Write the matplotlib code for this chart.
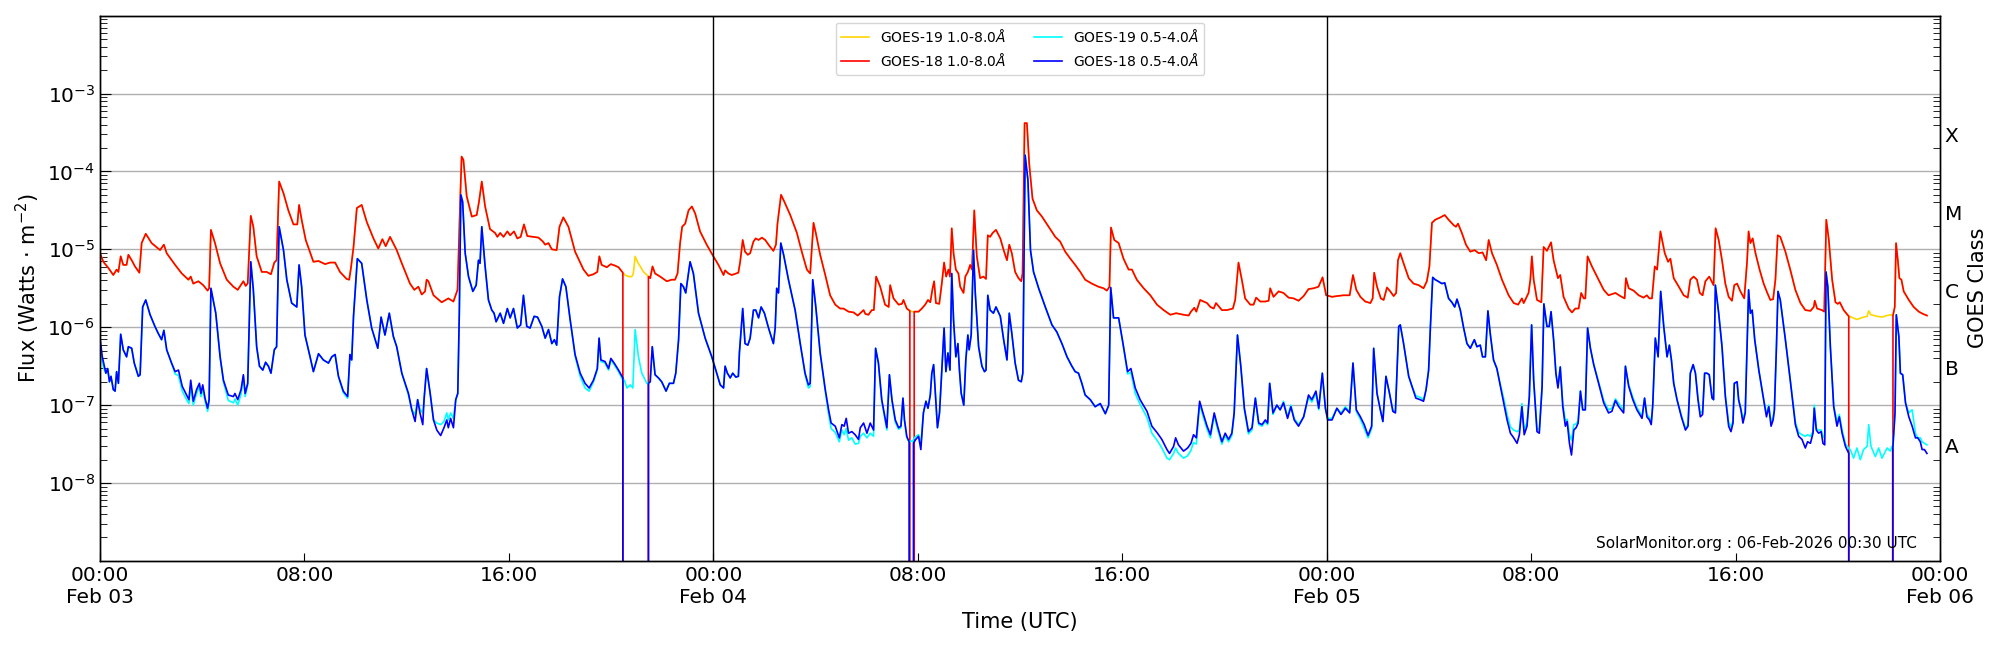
import numpy as np
import matplotlib
matplotlib.use("Agg")
import matplotlib.pyplot as plt
import matplotlib.dates as mdates
from matplotlib.ticker import NullFormatter, FuncFormatter

# GOES X-ray flux, log10(W/m^2).
# GAP marks GOES-18 dropouts (flux reported as 0).
GAP = -np.inf

# hours since 2026-02-03 00:00 UTC, long channel (1.0-8.0 A)
t_long = [
    0.0, 0.13, 0.33, 0.52, 0.65, 0.72, 0.81, 0.91, 1.04, 1.11, 1.24, 1.37, 1.54, 1.63, 1.79, 2.02, 2.35, 2.50, 2.61, 2.94,
    3.20, 3.46, 3.55, 3.65, 3.85, 4.04, 4.21, 4.27, 4.34, 4.50, 4.70, 4.96, 5.22, 5.39, 5.61, 5.70, 5.78, 5.90, 6.00, 6.13,
    6.33, 6.52, 6.69, 6.82, 6.91, 7.01, 7.18, 7.37, 7.57, 7.72, 7.79, 7.89, 8.05, 8.35, 8.55, 8.81, 9.00, 9.20, 9.39, 9.65,
    9.75, 9.82, 9.92, 10.05, 10.24, 10.44, 10.70, 10.89, 11.05, 11.18, 11.35, 11.61, 11.81, 12.13, 12.30, 12.46, 12.59,
    12.72, 12.78, 12.85, 13.05, 13.37, 13.63, 13.83, 13.99, 14.09, 14.15, 14.22, 14.35, 14.55, 14.74, 14.83, 14.94, 15.07, 15.26, 15.46, 15.55,
    15.66, 15.79, 15.94, 16.05, 16.20, 16.33, 16.46, 16.59, 16.72, 16.96, 17.16, 17.33, 17.42, 17.55, 17.68, 17.87, 17.98, 18.13, 18.33, 18.59,
    18.92, 19.11, 19.31, 19.46, 19.54, 19.63, 19.83, 19.99, 20.16, 20.29, 20.46,
    20.48, 20.55, 20.68, 20.81, 20.87, 20.94, 21.03, 21.14, 21.27, 21.40, 21.44,
    21.46, 21.53, 21.62, 21.72, 21.92, 22.18, 22.37, 22.50, 22.60, 22.70, 22.78, 22.90, 23.03, 23.16, 23.29, 23.48, 23.74, 24.00, 24.20, 24.40,
    24.46, 24.59, 24.72, 24.98, 25.05, 25.15, 25.24,
    25.35, 25.44, 25.57, 25.66, 25.77, 25.90, 26.03, 26.18, 26.35, 26.45, 26.51, 26.65, 26.78, 27.01, 27.27, 27.46, 27.66, 27.79, 27.92, 28.01,
    28.18, 28.38, 28.57, 28.77, 28.96, 29.09, 29.29, 29.49, 29.65, 29.75, 29.88, 29.95, 30.07, 30.20, 30.28, 30.37, 30.53, 30.72, 30.86, 30.92,
    31.05, 31.25, 31.38, 31.44, 31.57, 31.69,
    31.70, 31.77, 31.83,
    31.86, 32.03, 32.16, 32.29, 32.40, 32.49, 32.58, 32.64, 32.71, 32.84, 32.94, 33.03, 33.11, 33.20, 33.26, 33.33, 33.40, 33.49, 33.59, 33.66,
    33.79, 33.86, 33.96, 34.05, 34.12, 34.21, 34.31, 34.44, 34.57, 34.67, 34.74, 34.83, 34.93, 35.06, 35.23, 35.36, 35.49, 35.58, 35.68, 35.81,
    35.94, 36.05, 36.10, 36.18, 36.27, 36.36, 36.49, 36.66, 36.86, 37.12, 37.38, 37.57, 37.77, 37.97,
    38.16, 38.36, 38.55, 38.81, 39.07, 39.27, 39.40, 39.50, 39.56, 39.69, 39.86, 40.05, 40.25, 40.38, 40.57, 40.84, 41.10, 41.36, 41.62, 41.88,
    42.11, 42.40, 42.60, 42.69, 42.82, 42.90, 43.05, 43.18, 43.32, 43.45, 43.58, 43.67, 43.80, 43.90, 44.10, 44.33, 44.42, 44.55, 44.68, 44.81,
    45.01, 45.14, 45.24, 45.40, 45.60, 45.73, 45.79, 45.92, 46.12, 46.31, 46.51, 46.71, 46.90, 47.10, 47.29, 47.49, 47.68, 47.84, 47.98, 48.21,
    48.40, 48.66, 48.90, 49.03, 49.16, 49.32, 49.51, 49.71, 49.80, 49.86, 49.97, 50.12, 50.23, 50.36, 50.49, 50.62, 50.72, 50.79, 50.88,
    51.01, 51.21, 51.40, 51.60, 51.79, 51.92, 52.02, 52.12, 52.25, 52.45, 52.62, 52.77, 52.97, 53.06, 53.14, 53.29, 53.45, 53.62, 53.79, 53.95,
    54.10, 54.24, 54.34, 54.47, 54.66, 54.86, 55.12, 55.32, 55.49, 55.64, 55.71, 55.90, 55.97, 56.03, 56.10, 56.23, 56.40, 56.49, 56.62, 56.78,
    56.88, 57.05, 57.14, 57.27, 57.47, 57.60, 57.73, 57.86, 57.96, 58.06, 58.12, 58.21, 58.38, 58.58, 58.84, 59.03, 59.30, 59.49, 59.66, 59.71,
    59.82, 60.01, 60.21, 60.40, 60.53, 60.63, 60.73, 60.84, 60.93, 61.06, 61.23, 61.36, 61.45, 61.58, 61.78, 61.97, 62.13, 62.23, 62.36, 62.49,
    62.60, 62.71, 62.82, 62.97, 63.14, 63.22,
    63.34, 63.47, 63.60, 63.73, 63.86, 63.95, 64.06, 64.19, 64.34, 64.45, 64.51, 64.58, 64.67, 64.78, 64.94, 65.10, 65.23, 65.36, 65.47, 65.56,
    65.65, 65.75, 65.95, 66.14, 66.34, 66.54, 66.73, 66.93, 67.06, 67.10, 67.19, 67.38, 67.47, 67.55, 67.65, 67.78, 67.91, 68.00, 68.08, 68.23,
    68.43,
    68.45, 68.75, 69.01, 69.15, 69.21, 69.30, 69.54, 69.73, 69.93, 70.08, 70.12,
    70.16, 70.23, 70.28, 70.35, 70.41, 70.49, 70.58, 70.78, 70.97, 71.17, 71.34, 71.49,
]

g18_long = [
    -5.05, -5.16, -5.24, -5.33, -5.26, -5.29, -5.09, -5.20, -5.20, -5.07, -5.14, -5.22, -5.30, -4.92, -4.80, -4.92, -5.01, -4.94, -5.05, -5.20,
    -5.31, -5.39, -5.35, -5.44, -5.41, -5.46, -5.53, -5.50, -4.75, -4.92, -5.18, -5.39, -5.48, -5.52, -5.41, -5.47, -5.44, -4.57, -4.71, -5.09,
    -5.29, -5.29, -5.32, -5.17, -5.14, -4.13, -4.28, -4.50, -4.68, -4.68, -4.43, -4.62, -4.88, -5.16, -5.15, -5.19, -5.17, -5.17, -5.29, -5.38,
    -5.39, -5.24, -4.97, -4.47, -4.43, -4.65, -4.86, -4.99, -4.87, -4.96, -4.84, -5.01, -5.18, -5.44, -5.52, -5.48, -5.58,
    -5.54, -5.39, -5.41, -5.59, -5.68, -5.63, -5.67, -5.52, -4.41, -3.81, -3.85, -4.32, -4.58, -4.56, -4.39, -4.13, -4.45, -4.74, -4.79, -4.84,
    -4.79, -4.84, -4.77, -4.82, -4.77, -4.86, -4.84, -4.68, -4.83, -4.84, -4.85, -4.90, -4.94, -4.92, -5.00, -5.01, -4.71, -4.59, -4.71, -5.03,
    -5.26, -5.34, -5.32, -5.29, -5.09, -5.20, -5.23, -5.19, -5.21, -5.23, -5.30,
    GAP, GAP, GAP, GAP, GAP, GAP, GAP, GAP, GAP, GAP, GAP,
    -5.35, -5.37, -5.22, -5.31, -5.35, -5.41, -5.39, -5.39, -5.31, -4.92, -4.71, -4.67, -4.50, -4.45, -4.54, -4.77, -4.94, -5.09, -5.20, -5.33,
    -5.27, -5.31, -5.33, -5.30, -5.16, -4.88, -5.03,
    -5.07, -5.05, -4.90, -4.86, -4.88, -4.85, -4.88, -4.95, -5.02, -4.94, -4.67, -4.30, -4.39, -4.56, -4.79, -5.03, -5.26, -5.31, -4.66, -4.79,
    -5.07, -5.33, -5.59, -5.71, -5.76, -5.76, -5.80, -5.81, -5.85, -5.82, -5.78, -5.83, -5.84, -5.78, -5.78, -5.35, -5.48, -5.71, -5.74, -5.46,
    -5.63, -5.71, -5.70, -5.65, -5.76, -5.79,
    GAP, GAP, GAP,
    -5.80, -5.80, -5.76, -5.71, -5.65, -5.68, -5.50, -5.41, -5.69, -5.70, -5.44, -5.17, -5.35, -5.26, -5.35, -4.73, -5.05, -5.26, -5.31, -5.48,
    -5.56, -5.35, -5.29, -5.20, -5.26, -4.50, -5.09, -5.37, -5.35, -5.38, -4.82, -4.84, -4.79, -4.75, -4.86, -5.01, -5.14, -4.94, -5.05, -5.29,
    -5.37, -5.41, -5.31, -3.38, -3.38, -3.90, -4.35, -4.50, -4.58, -4.71, -4.84, -4.90, -5.03, -5.12,
    -5.20, -5.29, -5.39, -5.44, -5.48, -5.50, -5.53, -5.48, -4.72, -4.88, -4.92, -5.12, -5.26, -5.26, -5.39, -5.50, -5.59, -5.71, -5.78, -5.84,
    -5.82, -5.84, -5.85, -5.80, -5.75, -5.80, -5.65, -5.67, -5.69, -5.74, -5.76, -5.69, -5.74, -5.78, -5.78, -5.76, -5.65, -5.17, -5.39, -5.63,
    -5.71, -5.71, -5.62, -5.67, -5.67, -5.66, -5.50, -5.61, -5.54, -5.56, -5.62, -5.63, -5.66, -5.60, -5.51, -5.50, -5.48, -5.36, -5.59, -5.61,
    -5.60, -5.59, -5.59, -5.33, -5.52, -5.61, -5.67, -5.69, -5.63, -5.30, -5.48, -5.63, -5.65, -5.49, -5.54, -5.60, -5.56, -5.14, -5.05,
    -5.18, -5.37, -5.44, -5.46, -5.50, -5.41, -5.22, -4.66, -4.62, -4.59, -4.56, -4.62, -4.69, -4.71, -4.67, -4.79, -4.94, -5.03, -5.01, -5.05,
    -5.04, -5.14, -4.88, -5.05, -5.20, -5.39, -5.59, -5.69, -5.71, -5.63, -5.69, -5.56, -5.39, -5.09, -5.39, -5.65, -5.68, -4.97, -5.02, -4.91,
    -5.14, -5.37, -5.33, -5.61, -5.76, -5.81, -5.76, -5.76, -5.56, -5.63, -5.63, -5.09, -5.22, -5.35, -5.52, -5.59, -5.56, -5.60, -5.63, -5.37,
    -5.50, -5.53, -5.59, -5.62, -5.59, -5.63, -5.63, -5.22, -5.26, -4.77, -5.05, -5.16, -5.12, -5.37, -5.48, -5.59, -5.62, -5.39, -5.35, -5.39,
    -5.56, -5.59, -5.41, -5.35, -5.46, -4.73,
    -4.88, -5.14, -5.44, -5.61, -5.66, -5.46, -5.44, -5.54, -5.63, -5.16, -4.77, -4.92, -4.86, -5.05, -5.26, -5.44, -5.55, -5.65, -5.64, -5.39,
    -4.82, -4.84, -5.03, -5.26, -5.52, -5.69, -5.78, -5.79, -5.74, -5.66, -5.76, -5.78, -5.80, -4.62, -4.88, -5.39, -5.68, -5.70, -5.68, -5.78,
    -5.86,
    GAP, GAP, GAP, GAP, GAP, GAP, GAP, GAP, GAP, GAP, GAP,
    -5.85, -5.74, -4.92, -5.14, -5.37, -5.39, -5.54, -5.65, -5.74, -5.80, -5.83, -5.85,
]

g19_long = [
    -5.05, -5.16, -5.24, -5.33, -5.26, -5.29, -5.09, -5.20, -5.20, -5.07, -5.14, -5.22, -5.30, -4.92, -4.80, -4.92, -5.01, -4.94, -5.05, -5.20,
    -5.31, -5.39, -5.35, -5.44, -5.41, -5.46, -5.53, -5.50, -4.75, -4.92, -5.18, -5.39, -5.48, -5.52, -5.41, -5.47, -5.44, -4.57, -4.71, -5.09,
    -5.29, -5.29, -5.32, -5.17, -5.14, -4.13, -4.28, -4.50, -4.68, -4.68, -4.43, -4.62, -4.88, -5.16, -5.15, -5.19, -5.17, -5.17, -5.29, -5.38,
    -5.39, -5.24, -4.97, -4.47, -4.43, -4.65, -4.86, -4.99, -4.87, -4.96, -4.84, -5.01, -5.18, -5.44, -5.52, -5.48, -5.58,
    -5.54, -5.39, -5.41, -5.59, -5.68, -5.63, -5.67, -5.52, -4.41, -3.81, -3.85, -4.32, -4.58, -4.56, -4.39, -4.13, -4.45, -4.74, -4.79, -4.84,
    -4.79, -4.84, -4.77, -4.82, -4.77, -4.86, -4.84, -4.68, -4.83, -4.84, -4.85, -4.90, -4.94, -4.92, -5.00, -5.01, -4.71, -4.59, -4.71, -5.03,
    -5.26, -5.34, -5.32, -5.29, -5.09, -5.20, -5.23, -5.19, -5.21, -5.23, -5.30,
    -5.31, -5.33, -5.35, -5.35, -5.31, -5.09, -5.16, -5.22, -5.29, -5.33, -5.34,
    -5.35, -5.37, -5.22, -5.31, -5.35, -5.41, -5.39, -5.39, -5.31, -4.92, -4.71, -4.67, -4.50, -4.45, -4.54, -4.77, -4.94, -5.09, -5.20, -5.33,
    -5.27, -5.31, -5.33, -5.30, -5.16, -4.88, -5.03,
    -5.07, -5.05, -4.90, -4.86, -4.88, -4.85, -4.88, -4.95, -5.02, -4.94, -4.67, -4.30, -4.39, -4.56, -4.79, -5.03, -5.26, -5.31, -4.66, -4.79,
    -5.07, -5.33, -5.59, -5.71, -5.76, -5.76, -5.80, -5.81, -5.85, -5.82, -5.78, -5.83, -5.84, -5.78, -5.78, -5.35, -5.48, -5.71, -5.74, -5.46,
    -5.63, -5.71, -5.70, -5.65, -5.76, -5.79,
    -5.79, -5.80, -5.80,
    -5.80, -5.80, -5.76, -5.71, -5.65, -5.68, -5.50, -5.41, -5.69, -5.70, -5.44, -5.17, -5.35, -5.26, -5.35, -4.73, -5.05, -5.26, -5.31, -5.48,
    -5.56, -5.35, -5.29, -5.20, -5.26, -4.50, -5.09, -5.37, -5.35, -5.38, -4.82, -4.84, -4.79, -4.75, -4.86, -5.01, -5.14, -4.94, -5.05, -5.29,
    -5.37, -5.41, -5.31, -3.38, -3.38, -3.90, -4.35, -4.50, -4.58, -4.71, -4.84, -4.90, -5.03, -5.12,
    -5.20, -5.29, -5.39, -5.44, -5.48, -5.50, -5.53, -5.48, -4.72, -4.88, -4.92, -5.12, -5.26, -5.26, -5.39, -5.50, -5.59, -5.71, -5.78, -5.84,
    -5.82, -5.84, -5.85, -5.80, -5.75, -5.80, -5.65, -5.67, -5.69, -5.74, -5.76, -5.69, -5.74, -5.78, -5.78, -5.76, -5.65, -5.17, -5.39, -5.63,
    -5.71, -5.71, -5.62, -5.67, -5.67, -5.66, -5.50, -5.61, -5.54, -5.56, -5.62, -5.63, -5.66, -5.60, -5.51, -5.50, -5.48, -5.36, -5.59, -5.61,
    -5.60, -5.59, -5.59, -5.33, -5.52, -5.61, -5.67, -5.69, -5.63, -5.30, -5.48, -5.63, -5.65, -5.49, -5.54, -5.60, -5.56, -5.14, -5.05,
    -5.18, -5.37, -5.44, -5.46, -5.50, -5.41, -5.22, -4.66, -4.62, -4.59, -4.56, -4.62, -4.69, -4.71, -4.67, -4.79, -4.94, -5.03, -5.01, -5.05,
    -5.04, -5.14, -4.88, -5.05, -5.20, -5.39, -5.59, -5.69, -5.71, -5.63, -5.69, -5.56, -5.39, -5.09, -5.39, -5.65, -5.68, -4.97, -5.02, -4.91,
    -5.14, -5.37, -5.33, -5.61, -5.76, -5.81, -5.76, -5.76, -5.56, -5.63, -5.63, -5.09, -5.22, -5.35, -5.52, -5.59, -5.56, -5.60, -5.63, -5.37,
    -5.50, -5.53, -5.59, -5.62, -5.59, -5.63, -5.63, -5.22, -5.26, -4.77, -5.05, -5.16, -5.12, -5.37, -5.48, -5.59, -5.62, -5.39, -5.35, -5.39,
    -5.56, -5.59, -5.41, -5.35, -5.46, -4.73,
    -4.88, -5.14, -5.44, -5.61, -5.66, -5.46, -5.44, -5.54, -5.63, -5.16, -4.77, -4.92, -4.86, -5.05, -5.26, -5.44, -5.55, -5.65, -5.64, -5.39,
    -4.82, -4.84, -5.03, -5.26, -5.52, -5.69, -5.78, -5.79, -5.74, -5.66, -5.76, -5.78, -5.80, -4.62, -4.88, -5.39, -5.68, -5.70, -5.68, -5.78,
    -5.86,
    -5.86, -5.90, -5.87, -5.86, -5.79, -5.84, -5.86, -5.87, -5.85, -5.84, -5.85,
    -5.85, -5.74, -4.92, -5.14, -5.37, -5.39, -5.54, -5.65, -5.74, -5.80, -5.83, -5.85,
]

# hours since 2026-02-03 00:00 UTC, short channel (0.5-4.0 A)
t_short = [
    0.0, 0.09, 0.17, 0.23, 0.30, 0.37, 0.43, 0.52, 0.59, 0.65, 0.72, 0.81, 0.91, 1.04, 1.11, 1.24, 1.34, 1.50, 1.57, 1.67,
    1.79, 1.96, 2.15, 2.28, 2.41, 2.50, 2.61, 2.80, 2.94, 3.07, 3.22, 3.39, 3.48, 3.55, 3.65, 3.78, 3.89, 3.95, 4.02, 4.11,
    4.21, 4.27, 4.34, 4.53, 4.70, 4.83, 5.02, 5.22, 5.28, 5.39, 5.52, 5.61, 5.68, 5.78, 5.90, 6.00, 6.13, 6.24, 6.37, 6.48,
    6.59, 6.69, 6.82, 6.91, 7.01, 7.18, 7.31, 7.50, 7.70, 7.79, 7.89, 8.02, 8.22, 8.35, 8.55, 8.74, 8.94, 9.07, 9.20, 9.33,
    9.52, 9.69, 9.78, 9.85, 9.92, 10.07, 10.24, 10.44, 10.63, 10.87, 11.00, 11.15, 11.32, 11.48, 11.61, 11.81, 12.07, 12.20, 12.33, 12.43,
    12.52, 12.63,
    12.68, 12.78, 12.92, 13.05, 13.18, 13.33, 13.46, 13.57, 13.63, 13.72, 13.83, 13.92, 14.00, 14.06, 14.12, 14.19, 14.29, 14.42, 14.59, 14.72,
    14.81, 14.87, 14.94, 15.07, 15.20, 15.33, 15.42, 15.50, 15.66, 15.79, 15.94, 16.05, 16.18, 16.33, 16.46, 16.57, 16.70, 16.83, 16.99, 17.12,
    17.29, 17.42, 17.55, 17.68, 17.78, 17.87, 17.98, 18.10, 18.23, 18.40, 18.59, 18.79, 18.98, 19.14, 19.31, 19.46, 19.53, 19.60, 19.76, 19.90,
    19.99, 20.12, 20.29, 20.46,
    20.48, 20.52, 20.62, 20.75, 20.85, 20.94, 21.07, 21.20, 21.40, 21.44,
    21.46, 21.53, 21.61, 21.72, 21.85, 21.98, 22.15, 22.28, 22.44, 22.53, 22.64, 22.73, 22.83, 22.92, 23.09, 23.22, 23.42, 23.68, 23.94, 24.17,
    24.27, 24.40, 24.46, 24.55, 24.66, 24.76, 24.88, 24.98, 25.02, 25.15, 25.24,
    25.35, 25.44, 25.57, 25.66, 25.77, 25.87, 26.00, 26.16, 26.35, 26.42, 26.48, 26.55, 26.64, 26.75, 26.94, 27.20, 27.40, 27.59, 27.72, 27.79,
    27.89, 28.01, 28.18, 28.38, 28.51, 28.61, 28.77, 28.93, 29.03, 29.12, 29.20, 29.29, 29.42, 29.55, 29.68, 29.75, 29.88, 30.01, 30.14, 30.27,
    30.35, 30.46, 30.59, 30.79, 30.89, 30.99, 31.12, 31.25, 31.34, 31.42, 31.48, 31.57, 31.66,
    31.68, 31.75, 31.81,
    31.83, 31.92, 32.03, 32.12, 32.22, 32.32, 32.40, 32.49, 32.55, 32.62, 32.68, 32.77, 32.85, 32.94, 33.03, 33.10, 33.18, 33.26, 33.33, 33.40,
    33.49, 33.57, 33.63, 33.70, 33.80, 33.88, 33.96, 34.01, 34.09, 34.18, 34.25, 34.38, 34.51, 34.61, 34.67, 34.74, 34.83, 34.96, 35.06, 35.23,
    35.36, 35.49, 35.58, 35.68, 35.81, 35.94, 36.05, 36.11, 36.20, 36.31, 36.41, 36.53, 36.73, 36.99, 37.25, 37.44, 37.64, 37.84, 38.03, 38.16,
    38.29, 38.42, 38.55, 38.75, 38.94, 39.14, 39.34, 39.47, 39.55, 39.66, 39.86, 40.03, 40.21, 40.34, 40.51, 40.70, 40.97, 41.16, 41.38, 41.55,
    41.75, 41.85, 42.01, 42.09, 42.20, 42.40, 42.56, 42.69, 42.79, 42.90, 43.03, 43.16, 43.32, 43.45, 43.60, 43.73, 43.90, 44.03, 44.16, 44.29,
    44.38, 44.51, 44.64, 44.78, 44.94, 45.08, 45.21, 45.34, 45.47, 45.60, 45.69, 45.77, 45.90, 46.05, 46.18, 46.31, 46.47, 46.60, 46.73, 46.90,
    47.10, 47.29, 47.42, 47.58, 47.69, 47.83, 47.95, 48.04, 48.21, 48.40, 48.56, 48.73, 48.90, 49.03, 49.16, 49.32, 49.47, 49.62, 49.76, 49.84,
    49.97, 50.10, 50.20, 50.32, 50.46, 50.59, 50.69, 50.82, 50.88,
    51.01, 51.21, 51.34, 51.49, 51.66, 51.79, 51.89, 51.99, 52.06, 52.15, 52.25, 52.36, 52.51, 52.62, 52.77, 52.90, 53.01, 53.10, 53.23, 53.36,
    53.49, 53.62, 53.78, 53.88, 54.01, 54.10, 54.21, 54.31, 54.40, 54.53, 54.66, 54.80, 54.93, 55.06, 55.19, 55.32, 55.45, 55.54, 55.64, 55.73,
    55.84, 55.93, 56.02, 56.10, 56.23, 56.32, 56.43, 56.50, 56.62, 56.71, 56.78, 56.88, 56.97, 57.05, 57.14, 57.24, 57.34, 57.41, 57.50, 57.58,
    57.67, 57.76, 57.84, 57.93, 58.02, 58.12, 58.21, 58.32, 58.45, 58.64, 58.84, 59.03, 59.16, 59.30, 59.43, 59.62, 59.69, 59.82, 59.98, 60.14,
    60.34, 60.44, 60.53, 60.63, 60.70, 60.76, 60.86, 60.97, 61.07, 61.19, 61.32, 61.41, 61.49, 61.58, 61.71, 61.88, 62.04, 62.14, 62.23, 62.34,
    62.43, 62.53, 62.62, 62.71, 62.79, 62.88, 62.97, 63.08, 63.14, 63.21,
    63.34, 63.47, 63.60, 63.73, 63.82, 63.90, 63.95, 64.06, 64.12, 64.21, 64.29, 64.38, 64.45, 64.51, 64.58, 64.65, 64.75, 64.91, 65.08, 65.21,
    65.30, 65.39, 65.47, 65.52, 65.60, 65.66, 65.75, 65.95, 66.14, 66.34, 66.47, 66.60, 66.73, 66.82, 66.93, 67.03, 67.08, 67.16, 67.25, 67.35,
    67.42, 67.49, 67.54, 67.61, 67.71, 67.84, 67.97, 68.06, 68.17, 68.30, 68.43,
    68.45, 68.49, 68.62, 68.75, 68.88, 69.01, 69.15, 69.21, 69.30, 69.47, 69.60, 69.73, 69.93, 70.06, 70.12,
    70.15, 70.24, 70.29, 70.39, 70.45, 70.54, 70.65, 70.78, 70.91, 71.04, 71.13, 71.23, 71.30, 71.39, 71.49,
]

g18_short = [
    -6.14, -6.38, -6.50, -6.59, -6.53, -6.70, -6.63, -6.80, -6.82, -6.57, -6.72, -6.09, -6.29, -6.38, -6.25, -6.27, -6.46, -6.63, -6.61, -5.74,
    -5.65, -5.84, -5.99, -6.08, -6.16, -6.04, -6.29, -6.46, -6.57, -6.55, -6.76, -6.87, -6.93, -6.68, -6.95, -6.80, -6.72, -6.85, -6.74, -6.91,
    -7.04, -6.93, -5.50, -5.82, -6.38, -6.68, -6.87, -6.89, -6.85, -6.93, -6.80, -6.61, -6.85, -6.72, -5.16, -5.52, -6.25, -6.50, -6.55, -6.45,
    -6.50, -6.59, -6.29, -6.25, -4.71, -5.01, -5.39, -5.69, -5.74, -5.20, -5.48, -6.10, -6.38, -6.57, -6.34, -6.42, -6.46, -6.38, -6.35, -6.63,
    -6.82, -6.89, -6.35, -6.42, -5.86, -5.12, -5.18, -5.65, -6.01, -6.27, -5.87, -6.10, -5.82, -6.12, -6.25, -6.59, -6.85, -7.06, -7.21, -6.93,
    -7.10, -7.25,
    -6.93, -6.53, -6.85, -7.19, -7.32, -7.39, -7.29, -7.19, -7.29, -7.17, -7.29, -6.93, -6.85, -5.82, -4.30, -4.39, -5.05, -5.35, -5.54, -5.46,
    -5.14, -5.18, -4.71, -5.22, -5.65, -5.78, -5.82, -5.93, -5.82, -5.95, -5.76, -5.88, -5.76, -6.01, -5.97, -5.59, -5.99, -6.01, -5.86, -5.87,
    -5.99, -6.14, -6.03, -6.21, -6.16, -6.23, -5.61, -5.38, -5.48, -5.91, -6.35, -6.59, -6.72, -6.78, -6.68, -6.53, -6.14, -6.42, -6.44, -6.53,
    -6.40, -6.46, -6.55, -6.65,
    GAP, GAP, GAP, GAP, GAP, GAP, GAP, GAP, GAP, GAP,
    -6.72, -6.70, -6.25, -6.61, -6.65, -6.70, -6.82, -6.72, -6.72, -6.59, -6.16, -5.44, -5.48, -5.56, -5.16, -5.31, -5.82, -6.14, -6.38, -6.63,
    -6.74, -6.78, -6.50, -6.59, -6.65, -6.59, -6.64, -6.63, -6.33, -5.76, -6.21,
    -6.23, -6.14, -5.78, -5.78, -5.88, -5.74, -5.82, -6.01, -6.21, -6.01, -5.50, -5.56, -4.92, -5.07, -5.39, -5.78, -6.21, -6.59, -6.74, -6.72,
    -5.39, -5.74, -6.33, -6.80, -7.06, -7.23, -7.27, -7.42, -7.25, -7.27, -7.17, -7.36, -7.34, -7.38, -7.44, -7.29, -7.23, -7.36, -7.23, -7.32,
    -6.27, -6.46, -6.93, -7.29, -6.61, -6.93, -7.19, -7.29, -7.27, -6.91, -7.19, -7.40, -7.47,
    GAP, GAP, GAP,
    -7.49, -7.44, -7.40, -7.57, -7.10, -6.95, -7.04, -6.87, -6.59, -6.48, -6.80, -7.29, -7.10, -6.55, -6.01, -6.57, -6.33, -6.55, -5.31, -5.91,
    -6.38, -6.21, -6.55, -6.85, -7.00, -6.42, -6.10, -6.29, -6.10, -5.01, -5.56, -6.25, -6.50, -6.57, -6.55, -5.59, -5.78, -5.82, -5.74, -5.86,
    -6.16, -6.42, -5.82, -6.08, -6.46, -6.68, -6.70, -6.59, -3.79, -4.11, -5.01, -5.29, -5.50, -5.74, -5.97, -6.06, -6.21, -6.38, -6.50, -6.57,
    -6.59, -6.72, -6.87, -6.93, -7.02, -6.98, -7.11, -7.00, -5.49, -5.88, -5.88, -6.21, -6.57, -6.53, -6.78, -6.93, -7.08, -7.27, -7.36, -7.44,
    -7.57, -7.62, -7.53, -7.42, -7.51, -7.59, -7.55, -7.49, -7.38, -7.42, -6.95, -7.10, -7.27, -7.38, -7.10, -7.27, -7.47, -7.36, -7.44, -7.36,
    -7.10, -6.10, -6.50, -7.04, -7.34, -7.29, -6.91, -7.23, -7.25, -7.19, -7.23, -6.72, -7.10, -7.00, -7.06, -6.97, -7.17, -7.02, -7.19, -7.27,
    -7.15, -6.87, -6.93, -6.82, -7.04, -6.59, -7.04, -7.19, -7.19, -7.04, -7.12, -7.04, -7.10, -6.46, -7.06, -7.15, -7.25, -7.39, -7.27, -6.27,
    -6.85, -7.06, -7.21, -6.63, -6.85, -7.08, -7.10, -5.99, -5.97,
    -6.21, -6.63, -6.76, -6.91, -6.93, -6.95, -6.80, -6.55, -5.99, -5.36, -5.39, -5.41, -5.44, -5.43, -5.63, -5.68, -5.74, -5.64, -5.78, -6.01,
    -6.21, -6.27, -6.16, -6.25, -6.23, -6.38, -6.38, -5.79, -6.08, -6.42, -6.53, -6.76, -6.97, -7.19, -7.36, -7.42, -7.49, -7.38, -7.02, -7.38,
    -7.27, -6.89, -5.97, -6.68, -7.34, -7.36, -6.76, -5.70, -5.99, -5.99, -5.80, -6.16, -6.59, -6.78, -6.51, -7.02, -7.27, -7.21, -7.49, -7.64,
    -7.32, -7.29, -7.23, -6.82, -7.06, -7.06, -6.01, -6.27, -6.48, -6.72, -6.97, -7.10, -7.08, -6.94, -7.02, -7.10, -6.50, -6.76, -6.93, -7.06,
    -7.17, -6.91, -7.15, -7.19, -7.25, -7.00, -6.14, -6.38, -5.54, -5.99, -6.38, -6.23, -6.42, -6.72, -6.93, -7.15, -7.32, -7.27, -6.59, -6.48,
    -6.59, -6.93, -7.15, -7.12, -6.59, -6.59, -6.61, -6.91, -6.93, -5.46,
    -5.82, -6.25, -6.89, -7.27, -7.34, -7.23, -6.72, -6.70, -6.93, -7.06, -7.23, -7.10, -6.25, -5.52, -5.82, -5.78, -6.16, -6.55, -6.89, -7.15,
    -7.02, -7.27, -7.19, -7.06, -6.25, -5.54, -5.65, -6.16, -6.68, -7.25, -7.40, -7.44, -7.55, -7.47, -7.49, -7.36, -7.04, -7.32, -7.36, -7.34,
    -7.49, -7.51, -5.29, -5.48, -6.25, -7.02, -7.27, -7.15, -7.36, -7.53, -7.62,
    GAP, GAP, GAP, GAP, GAP, GAP, GAP, GAP, GAP, GAP, GAP, GAP, GAP, GAP, GAP,
    -7.57, -7.10, -5.84, -6.12, -6.59, -6.61, -6.97, -7.15, -7.27, -7.42, -7.42, -7.47, -7.57, -7.57, -7.62,
]

g19_short = [
    -6.30, -6.45, -6.55, -6.59, -6.53, -6.70, -6.63, -6.80, -6.82, -6.57, -6.72, -6.09, -6.29, -6.38, -6.25, -6.27, -6.46, -6.63, -6.61, -5.74,
    -5.65, -5.84, -5.99, -6.08, -6.16, -6.04, -6.29, -6.46, -6.60, -6.62, -6.82, -6.93, -6.98, -6.75, -7.00, -6.85, -6.76, -6.89, -6.78, -6.95,
    -7.08, -6.96, -5.50, -5.82, -6.38, -6.70, -6.94, -6.97, -6.92, -7.00, -6.86, -6.63, -6.89, -6.74, -5.16, -5.52, -6.25, -6.50, -6.55, -6.45,
    -6.50, -6.59, -6.29, -6.25, -4.71, -5.01, -5.39, -5.69, -5.74, -5.20, -5.48, -6.10, -6.38, -6.57, -6.34, -6.42, -6.46, -6.38, -6.35, -6.63,
    -6.84, -6.91, -6.35, -6.42, -5.86, -5.12, -5.18, -5.65, -6.01, -6.27, -5.87, -6.10, -5.82, -6.12, -6.25, -6.59, -6.87, -7.06, -7.12, -6.93,
    -7.05, -7.10,
    -6.93, -6.53, -6.85, -7.19, -7.23, -7.25, -7.21, -7.10, -7.19, -7.10, -7.17, -6.93, -6.85, -5.82, -4.30, -4.39, -5.05, -5.35, -5.54, -5.46,
    -5.14, -5.18, -4.71, -5.22, -5.65, -5.78, -5.82, -5.93, -5.82, -5.95, -5.76, -5.88, -5.76, -6.01, -5.97, -5.59, -5.99, -6.01, -5.86, -5.87,
    -5.99, -6.14, -6.03, -6.21, -6.16, -6.23, -5.61, -5.38, -5.48, -5.91, -6.37, -6.63, -6.78, -6.82, -6.70, -6.55, -6.14, -6.44, -6.46, -6.55,
    -6.42, -6.48, -6.57, -6.68,
    -6.68, -6.68, -6.78, -6.74, -6.78, -6.03, -6.38, -6.59, -6.72, -6.73,
    -6.72, -6.70, -6.25, -6.61, -6.65, -6.70, -6.82, -6.72, -6.72, -6.59, -6.16, -5.44, -5.48, -5.56, -5.16, -5.31, -5.82, -6.14, -6.38, -6.63,
    -6.74, -6.78, -6.50, -6.59, -6.65, -6.59, -6.64, -6.63, -6.33, -5.76, -6.21,
    -6.23, -6.14, -5.78, -5.78, -5.88, -5.74, -5.82, -6.01, -6.21, -6.01, -5.50, -5.56, -4.92, -5.07, -5.39, -5.78, -6.21, -6.61, -6.78, -6.76,
    -5.39, -5.74, -6.33, -6.82, -7.12, -7.30, -7.35, -7.47, -7.32, -7.38, -7.30, -7.45, -7.42, -7.50, -7.49, -7.40, -7.36, -7.42, -7.36, -7.40,
    -6.27, -6.46, -6.95, -7.32, -6.61, -6.95, -7.22, -7.31, -7.29, -6.91, -7.20, -7.42, -7.47,
    -7.47, -7.46, -7.47,
    -7.44, -7.40, -7.38, -7.50, -7.10, -6.95, -7.04, -6.87, -6.59, -6.48, -6.80, -7.29, -7.10, -6.55, -6.01, -6.57, -6.33, -6.55, -5.31, -5.91,
    -6.38, -6.21, -6.55, -6.85, -7.00, -6.42, -6.10, -6.29, -6.10, -5.01, -5.56, -6.25, -6.50, -6.57, -6.55, -5.59, -5.78, -5.82, -5.74, -5.86,
    -6.16, -6.42, -5.82, -6.08, -6.46, -6.68, -6.70, -6.59, -3.79, -4.11, -5.01, -5.29, -5.50, -5.74, -5.97, -6.06, -6.21, -6.38, -6.50, -6.57,
    -6.59, -6.72, -6.87, -6.93, -7.02, -6.98, -7.11, -7.00, -5.49, -5.88, -5.88, -6.21, -6.60, -6.58, -6.85, -6.99, -7.16, -7.36, -7.46, -7.55,
    -7.68, -7.70, -7.62, -7.55, -7.62, -7.68, -7.65, -7.58, -7.48, -7.50, -6.98, -7.14, -7.31, -7.42, -7.13, -7.31, -7.50, -7.39, -7.47, -7.39,
    -7.12, -6.10, -6.50, -7.06, -7.37, -7.32, -6.91, -7.25, -7.27, -7.21, -7.25, -6.72, -7.12, -7.00, -7.06, -6.95, -7.15, -7.00, -7.17, -7.25,
    -7.15, -6.90, -6.96, -6.85, -7.06, -6.59, -7.04, -7.17, -7.17, -7.04, -7.10, -7.02, -7.08, -6.46, -7.08, -7.18, -7.30, -7.42, -7.30, -6.27,
    -6.85, -7.06, -7.21, -6.63, -6.85, -7.06, -7.08, -5.99, -5.97,
    -6.21, -6.63, -6.76, -6.88, -6.90, -6.93, -6.80, -6.55, -5.99, -5.36, -5.39, -5.41, -5.44, -5.43, -5.63, -5.68, -5.74, -5.64, -5.78, -6.01,
    -6.21, -6.27, -6.16, -6.25, -6.23, -6.38, -6.38, -5.79, -6.08, -6.42, -6.53, -6.74, -6.92, -7.12, -7.28, -7.32, -7.34, -7.32, -6.98, -7.32,
    -7.22, -6.89, -5.97, -6.68, -7.30, -7.32, -6.76, -5.70, -5.99, -5.99, -5.80, -6.16, -6.59, -6.76, -6.51, -6.98, -7.20, -7.18, -7.38, -7.45,
    -7.25, -7.24, -7.20, -6.82, -7.06, -7.06, -6.01, -6.27, -6.48, -6.70, -6.94, -7.06, -7.04, -6.92, -6.98, -7.06, -6.50, -6.74, -6.90, -7.03,
    -7.14, -6.91, -7.12, -7.16, -7.22, -7.00, -6.14, -6.38, -5.54, -5.99, -6.38, -6.23, -6.42, -6.72, -6.93, -7.13, -7.30, -7.25, -6.59, -6.48,
    -6.59, -6.91, -7.10, -7.08, -6.59, -6.59, -6.61, -6.91, -6.93, -5.46,
    -5.82, -6.25, -6.87, -7.22, -7.28, -7.20, -6.72, -6.70, -6.93, -7.04, -7.18, -7.08, -6.25, -5.52, -5.82, -5.78, -6.16, -6.55, -6.89, -7.12,
    -7.00, -7.22, -7.15, -7.06, -6.25, -5.54, -5.65, -6.16, -6.68, -7.22, -7.35, -7.38, -7.40, -7.38, -7.40, -7.34, -7.00, -7.30, -7.32, -7.32,
    -7.40, -7.42, -5.29, -5.48, -6.25, -7.00, -7.22, -7.12, -7.32, -7.50, -7.55,
    -7.57, -7.57, -7.68, -7.55, -7.70, -7.57, -7.53, -7.25, -7.53, -7.66, -7.55, -7.68, -7.55, -7.59, -7.53,
    -7.55, -7.10, -5.84, -6.12, -6.59, -6.61, -6.97, -7.10, -7.06, -7.36, -7.42, -7.42, -7.47, -7.49, -7.51,
]

class_levels = [3e-8, 3e-7, 3e-6, 3e-5, 3e-4]
class_names = ["A", "B", "C", "M", "X"]
flux_ticks = [1e-8, 1e-7, 1e-6, 1e-5, 1e-4, 1e-3]

start = np.datetime64("2026-02-03T00:00")


def to_time(hours):
    return start + (np.array(hours) * 3600).astype("timedelta64[s]")


def to_flux(logs):
    return 10.0 ** np.array(logs)


def fmt_date(x, pos):
    d = mdates.num2date(x)
    if d.hour == 0:
        return d.strftime("%H:%M\n%b %d")
    return d.strftime("%H:%M")


plt.rcParams["axes.linewidth"] = 1.0

fig, ax = plt.subplots(figsize=(20, 6.5), dpi=100)
fig.subplots_adjust(left=0.05, right=0.97, bottom=0.137, top=0.976)

ax.plot(to_time(t_long), to_flux(g19_long), color="gold", lw=1.2, label=r"GOES-19 1.0-8.0$\AA$")
ax.plot(to_time(t_long), to_flux(g18_long), color="red", lw=1.2, label=r"GOES-18 1.0-8.0$\AA$")
ax.plot(to_time(t_short), to_flux(g19_short), color="cyan", lw=1.2, label=r"GOES-19 0.5-4.0$\AA$")
ax.plot(to_time(t_short), to_flux(g18_short), color="blue", lw=1.2, label=r"GOES-18 0.5-4.0$\AA$")

ax.set_yscale("log")
ax.set_ylim(1e-9, 1e-2)
ax.set_yticks(flux_ticks)
ax.yaxis.grid(True, which="major", color="#b0b0b0", lw=1.0)

for day in [24, 48]:
    ax.axvline(to_time([day])[0], color="black", lw=1.0)

ax.set_xlim(to_time([0])[0], to_time([72])[0])
ax.xaxis.set_major_locator(mdates.HourLocator(byhour=[0, 8, 16]))
ax.xaxis.set_major_formatter(FuncFormatter(fmt_date))

ax.tick_params(axis="x", direction="in", length=6, labelsize=14.5, top=False)
ax.tick_params(axis="y", which="major", direction="in", length=8, labelsize=14.5, right=False)
ax.tick_params(axis="y", which="minor", direction="in", length=5, right=False)

ax.set_xlabel("Time (UTC)", fontsize=15)
ax.set_ylabel("Flux (Watts · m$^{-2}$)", fontsize=15)

ax.legend(loc="upper center", ncol=2, fontsize=10)
ax.text(0.9875, 0.018, "SolarMonitor.org : 06-Feb-2026 00:30 UTC", transform=ax.transAxes,
        ha="right", va="bottom", fontsize=11)

ax2 = ax.twinx()
ax2.set_yscale("log")
ax2.set_ylim(1e-9, 1e-2)
ax2.set_yticks(class_levels)
ax2.set_yticklabels(class_names)
ax2.yaxis.set_minor_formatter(NullFormatter())
ax2.tick_params(axis="y", which="major", length=0, labelsize=14.5, pad=3.5)
ax2.tick_params(axis="y", which="minor", direction="in", length=5)
ax2.set_ylabel("GOES Class", fontsize=15)

fig.savefig("out.png", dpi=100)
